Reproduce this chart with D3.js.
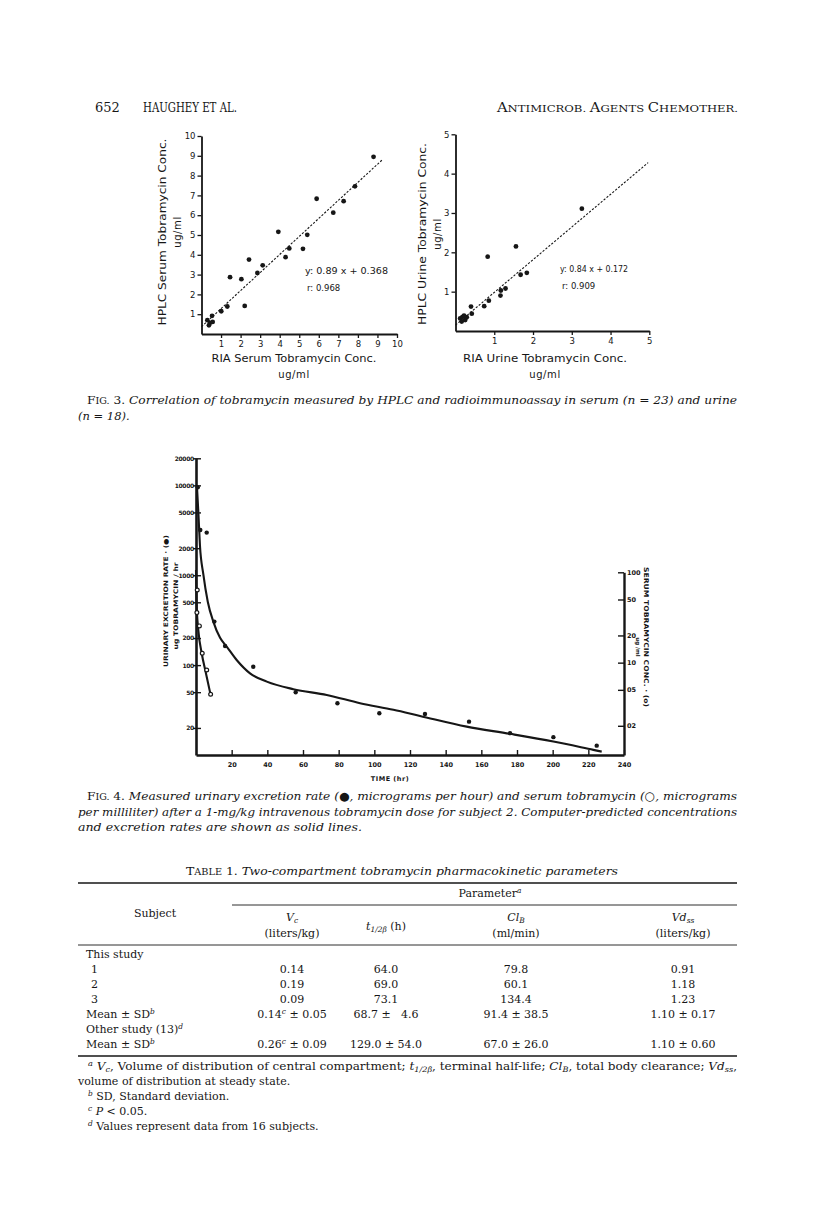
<!DOCTYPE html>
<html>
<head>
<meta charset="utf-8">
<script src="https://cdn.jsdelivr.net/npm/d3@7"></script>
<style>
  body { margin: 0; background: #fff; }
  svg { display: block; }
  .serif { font-family: "DejaVu Serif", serif; fill: #161616; }
  .sans { font-family: "DejaVu Sans", sans-serif; fill: #161616; }
  .axis path, .axis line { stroke: #161616; }
  .axis text { font-family: "DejaVu Sans", sans-serif; fill: #161616; }
</style>
</head>
<body>
<div id="page"></div>
<script>
var width = 816;
var height = 1222;

// ---- Fig 3 data ----
var serumRIA  = [8.8, 7.85, 7.27, 6.74, 5.89, 5.41, 5.19, 4.49, 4.30, 3.93, 3.13, 2.86, 2.43, 2.04, 2.21, 1.46, 1.32, 1.01, 0.54, 0.30, 0.43, 0.38, 0.57];
var serumHPLC = [8.95, 7.46, 6.71, 6.13, 6.83, 5.01, 4.30, 4.32, 3.88, 5.16, 3.47, 3.08, 3.76, 2.77, 1.42, 2.87, 1.39, 1.15, 0.92, 0.70, 0.56, 0.44, 0.61];
var serumLine = [[0, 0.37], [9.25, 8.8]];

var urineRIA  = [3.26, 1.56, 0.83, 1.84, 1.68, 1.29, 1.17, 1.16, 0.86, 0.74, 0.40, 0.42, 0.12, 0.18, 0.25, 0.29, 0.16, 0.22];
var urineHPLC = [3.11, 2.15, 1.89, 1.48, 1.43, 1.08, 1.03, 0.90, 0.77, 0.63, 0.62, 0.44, 0.32, 0.36, 0.28, 0.35, 0.24, 0.39];
var urineLine = [[0, 0.15], [4.97, 4.28]];

var serumTicks = [1, 2, 3, 4, 5, 6, 7, 8, 9, 10];
var urineTicks = [1, 2, 3, 4, 5];

// ---- Fig 4 data ----
var excretionFitTime = [0.5, 1.3, 2.2, 4.1, 6.6, 9.7, 13.5, 17.2, 22.8, 30.3, 39.7, 54.6, 73.3, 92, 110.7, 125.6, 151.8, 176.1, 200.4, 222.8, 227.5];
var excretionFitRate = [10000, 5100, 2170, 1026, 508, 305, 201, 161, 114, 81, 65.5, 54, 46.6, 37.7, 31.8, 27.2, 20.7, 17.2, 14.1, 11.4, 10.9];
var excretionTime = [1, 2.4, 6, 10.3, 16.3, 32.1, 55.9, 79.3, 102.8, 128.4, 153.1, 176.1, 200.4, 224.7];
var excretionRate = [9500, 3190, 2980, 305, 163, 96, 50, 37.7, 29.1, 28.6, 23.5, 17.5, 15.8, 12.7];

var serumFitTime = [0, 0.3, 1.3, 3.2, 5.6, 8.2];
var serumFitConc = [106, 45.8, 23, 12.7, 7.6, 4.4];
var serumTime = [0.7, 0.5, 1.9, 3.5, 6.0, 8.2];
var serumConc = [63.8, 35.8, 25.5, 12.7, 8.3, 4.47];

var rateTicks = [20, 50, 100, 200, 500, 1000, 2000, 5000, 10000, 20000];
var concTicks = [2, 5, 10, 20, 50, 100];
var concTickLabels = ["02", "05", "10", "20", "50", "100"];
var timeTicks = [20, 40, 60, 80, 100, 120, 140, 160, 180, 200, 220, 240];

// ---- Table 1 ----
var rowLabels = ["This study", "1", "2", "3", "Mean ± SD{b}", "Other study (13){d}", "Mean ± SD{b}"];
var colVc   = ["", "0.14", "0.19", "0.09", "0.14{c} ± 0.05", "", "0.26{c} ± 0.09"];
var colHalf = ["", "64.0", "69.0", "73.1", "68.7 ± \u20074.6", "", "129.0 ± 54.0"];
var colCl   = ["", "79.8", "60.1", "134.4", "91.4 ± 38.5", "", "67.0 ± 26.0"];
var colVd   = ["", "0.91", "1.18", "1.23", "1.10 ± 0.17", "", "1.10 ± 0.60"];

var svg = d3.select("#page").append("svg")
  .attr("width", width)
  .attr("height", height);

// small helper: {x} superscript (italic), [x] subscript (italic), *x* italic
function rich(sel, str, size) {
  var re = /(\{[^}]*\}|\[[^\]]*\]|\*[^*]*\*)/g;
  str.split(re).forEach(function (p) {
    if (!p) return;
    if (p[0] == "{") {
      sel.append("tspan").attr("baseline-shift", "super").attr("font-style", "italic")
        .attr("font-size", size * 0.68).text(p.slice(1, -1));
    } else if (p[0] == "[") {
      sel.append("tspan").attr("baseline-shift", "-2").attr("font-style", "italic")
        .attr("font-size", size * 0.68).text(p.slice(1, -1));
    } else if (p[0] == "*") {
      sel.append("tspan").attr("font-style", "italic").text(p.slice(1, -1));
    } else {
      sel.append("tspan").text(p);
    }
  });
  return sel;
}

// ---- Page header ----
svg.append("text").attr("class", "serif").attr("x", 95).attr("y", 112)
  .attr("font-size", 13).text("652");
svg.append("text").attr("class", "serif").attr("x", 143).attr("y", 112)
  .attr("font-size", 12).attr("textLength", 94).attr("lengthAdjust", "spacingAndGlyphs")
  .text("HAUGHEY ET AL.");
var hdr = svg.append("text").attr("class", "serif").attr("x", 497).attr("y", 112)
  .attr("textLength", 241).attr("lengthAdjust", "spacingAndGlyphs").attr("font-size", 12);
hdr.append("tspan").text("A");
hdr.append("tspan").attr("font-size", 9.5).text("NTIMICROB. ");
hdr.append("tspan").text("A");
hdr.append("tspan").attr("font-size", 9.5).text("GENTS ");
hdr.append("tspan").text("C");
hdr.append("tspan").attr("font-size", 9.5).text("HEMOTHER.");

// ---- Fig 3 scatter plots ----
function scatter(cfg) {
  var x = d3.scaleLinear().domain([0, cfg.max]).range(cfg.xRange);
  var y = d3.scaleLinear().domain([0, cfg.max]).range(cfg.yRange);
  var g = svg.append("g");

  g.append("g").attr("class", "axis")
    .attr("transform", "translate(0," + y(0) + ")")
    .call(d3.axisBottom(x).tickValues(cfg.ticks).tickSizeInner(4).tickSizeOuter(0).tickPadding(3).tickFormat(d3.format("d")))
    .call(function (a) {
      a.select(".domain").attr("stroke-width", 1.8);
      a.selectAll("line").attr("stroke-width", 1.3);
      a.selectAll("text").attr("font-size", 8.5);
    });

  g.append("g").attr("class", "axis")
    .attr("transform", "translate(" + x(0) + ",0)")
    .call(d3.axisLeft(y).tickValues(cfg.ticks).tickSizeInner(4).tickSizeOuter(0).tickPadding(2).tickFormat(d3.format("d")))
    .call(function (a) {
      a.select(".domain").attr("stroke-width", 1.8);
      a.selectAll("line").attr("stroke-width", 1.3);
      a.selectAll("text").attr("font-size", 8.5);
    });

  g.append("path")
    .datum(cfg.line)
    .attr("fill", "none")
    .attr("stroke", "#161616")
    .attr("stroke-width", 1.1)
    .attr("stroke-dasharray", "2.2,1.6")
    .attr("d", d3.line().x(function (d) { return x(d[0]); }).y(function (d) { return y(d[1]); }));

  g.selectAll("circle.pt")
    .data(d3.range(cfg.xs.length))
    .enter().append("circle")
    .attr("class", "pt")
    .attr("cx", function (i) { return x(cfg.xs[i]); })
    .attr("cy", function (i) { return y(cfg.ys[i]); })
    .attr("r", 2.4)
    .attr("fill", "#161616");

  // equation
  g.append("text").attr("class", "sans").attr("x", cfg.eqX).attr("y", cfg.eqY)
    .attr("font-size", 8.5).attr("textLength", cfg.eqLen).attr("lengthAdjust", "spacingAndGlyphs")
    .text(cfg.eq);
  g.append("text").attr("class", "sans").attr("x", cfg.eqX + 2).attr("y", cfg.eqY + 17)
    .attr("font-size", 8.5).text(cfg.r);

  // y label
  g.append("text").attr("class", "sans")
    .attr("transform", "translate(" + cfg.yLabX + "," + cfg.yLabY + ")rotate(-90)")
    .attr("text-anchor", "middle").attr("font-size", 10)
    .attr("textLength", cfg.yLabLen).attr("lengthAdjust", "spacingAndGlyphs")
    .text(cfg.yLab);
  g.append("text").attr("class", "sans")
    .attr("transform", "translate(" + (cfg.yLabX + 15) + "," + cfg.yLabY + ")rotate(-90)")
    .attr("text-anchor", "middle").attr("font-size", 10).attr("letter-spacing", 0.6)
    .text("ug/ml");

  // x label
  g.append("text").attr("class", "sans")
    .attr("x", cfg.xLabX).attr("y", 362)
    .attr("text-anchor", "middle").attr("font-size", 10)
    .attr("textLength", cfg.xLabLen).attr("lengthAdjust", "spacingAndGlyphs")
    .text(cfg.xLab);
  g.append("text").attr("class", "sans")
    .attr("x", cfg.xLabX).attr("y", 378)
    .attr("text-anchor", "middle").attr("font-size", 10).attr("letter-spacing", 0.6)
    .text("ug/ml");
}

scatter({
  max: 10, ticks: serumTicks, xRange: [201.5, 397], yRange: [334, 136],
  xs: serumRIA, ys: serumHPLC, line: serumLine,
  eq: "y: 0.89 x + 0.368", r: "r: 0.968", eqX: 305, eqY: 274, eqLen: 83,
  yLab: "HPLC Serum Tobramycin Conc.", yLabX: 165.5, yLabY: 232, yLabLen: 187,
  xLab: "RIA Serum Tobramycin Conc.", xLabX: 294, xLabLen: 165
});

scatter({
  max: 5, ticks: urineTicks, xRange: [455.5, 649.3], yRange: [331, 134.3],
  xs: urineRIA, ys: urineHPLC, line: urineLine,
  eq: "y: 0.84 x + 0.172", r: "r: 0.909", eqX: 560, eqY: 272, eqLen: 68,
  yLab: "HPLC Urine Tobramycin Conc.", yLabX: 425.5, yLabY: 234, yLabLen: 182,
  xLab: "RIA Urine Tobramycin Conc.", xLabX: 545, xLabLen: 164
});

// ---- Fig 3 caption ----
var c3 = svg.append("text").attr("class", "serif").attr("x", 87).attr("y", 404)
  .attr("font-size", 11.5).attr("textLength", 650).attr("lengthAdjust", "spacingAndGlyphs");
c3.append("tspan").text("F");
c3.append("tspan").attr("font-size", 9).text("IG.");
c3.append("tspan").text(" 3. ");
c3.append("tspan").attr("font-style", "italic")
  .text("Correlation of tobramycin measured by HPLC and radioimmunoassay in serum (n = 23) and urine");
svg.append("text").attr("class", "serif").attr("x", 78).attr("y", 420)
  .attr("font-size", 11.5).attr("font-style", "italic").text("(n = 18).");

// ---- Fig 4 ----
var tx = d3.scaleLinear().domain([0, 240]).range([196, 624]);
var yRate = d3.scaleLog().domain([10, 20000]).range([755, 458.3]);
var yConc = d3.scaleLog().domain([0.95, 100]).range([755, 572.3]);

var f4 = svg.append("g");

f4.append("g").attr("class", "axis")
  .attr("transform", "translate(0," + yRate(10) + ")")
  .call(d3.axisBottom(tx).tickValues(timeTicks).tickSizeInner(-5).tickSizeOuter(0).tickPadding(7).tickFormat(d3.format("d")))
  .call(function (a) {
    a.select(".domain").attr("stroke-width", 2.4);
    a.selectAll("line").attr("stroke-width", 1.4);
    a.selectAll("text").attr("font-size", 6.5).attr("font-weight", "bold");
  });

f4.append("g").attr("class", "axis")
  .attr("transform", "translate(" + tx(0) + ",0)")
  .call(d3.axisLeft(yRate).tickValues(rateTicks).tickSizeInner(-5).tickSizeOuter(0).tickPadding(2).tickFormat(d3.format("d")))
  .call(function (a) {
    a.select(".domain").attr("stroke-width", 2.6);
    a.selectAll("line").attr("stroke-width", 1.4).attr("x1", -3);
    a.selectAll("text").attr("font-size", 6).attr("font-weight", "bold").attr("letter-spacing", -0.3);
  });

f4.append("g").attr("class", "axis")
  .attr("transform", "translate(" + tx(240) + ",0)")
  .call(d3.axisRight(yConc).tickValues(concTicks).tickSizeInner(-6).tickSizeOuter(0).tickPadding(3)
    .tickFormat(function (d, i) { return concTickLabels[i]; }))
  .call(function (a) {
    a.select(".domain").attr("stroke-width", 2.4);
    a.selectAll("line").attr("stroke-width", 1.4);
    a.selectAll("text").attr("font-size", 6.5).attr("font-weight", "bold");
  });

var lineRate = d3.line()
  .x(function (i) { return tx(excretionFitTime[i]); })
  .y(function (i) { return yRate(excretionFitRate[i]); })
  .curve(d3.curveMonotoneX);
f4.append("path")
  .datum(d3.range(excretionFitTime.length))
  .attr("fill", "none").attr("stroke", "#161616").attr("stroke-width", 2.1)
  .attr("d", lineRate);

var lineConc = d3.line()
  .x(function (i) { return tx(serumFitTime[i]); })
  .y(function (i) { return yConc(serumFitConc[i]); })
  .curve(d3.curveMonotoneX);
f4.append("path")
  .datum(d3.range(serumFitTime.length))
  .attr("fill", "none").attr("stroke", "#161616").attr("stroke-width", 2.1)
  .attr("d", lineConc);

f4.selectAll("circle.rate")
  .data(d3.range(excretionTime.length))
  .enter().append("circle")
  .attr("class", "rate")
  .attr("cx", function (i) { return tx(excretionTime[i]); })
  .attr("cy", function (i) { return yRate(excretionRate[i]); })
  .attr("r", 2.2)
  .attr("fill", "#161616");

f4.selectAll("circle.conc")
  .data(d3.range(serumTime.length))
  .enter().append("circle")
  .attr("class", "conc")
  .attr("cx", function (i) { return tx(serumTime[i]); })
  .attr("cy", function (i) { return yConc(serumConc[i]); })
  .attr("r", 1.9)
  .attr("fill", "#fff")
  .attr("stroke", "#161616")
  .attr("stroke-width", 1.2);

// fig 4 axis titles
f4.append("text").attr("class", "sans")
  .attr("transform", "translate(167.5,601)rotate(-90)")
  .attr("text-anchor", "middle").attr("font-size", 6.2).attr("font-weight", "bold")
  .attr("textLength", 132).attr("lengthAdjust", "spacingAndGlyphs")
  .text("URINARY EXCRETION RATE \u00b7 (\u25cf)");
f4.append("text").attr("class", "sans")
  .attr("transform", "translate(177.5,606)rotate(-90)")
  .attr("text-anchor", "middle").attr("font-size", 6.2).attr("font-weight", "bold")
  .attr("textLength", 87).attr("lengthAdjust", "spacingAndGlyphs")
  .text("ug TOBRAMYCIN / hr");

f4.append("text").attr("class", "sans")
  .attr("transform", "translate(644,637)rotate(90)")
  .attr("text-anchor", "middle").attr("font-size", 6.5).attr("font-weight", "bold")
  .attr("textLength", 140).attr("lengthAdjust", "spacingAndGlyphs")
  .text("SERUM TOBRAMYCIN CONC. \u00b7 (o)");
f4.append("text").attr("class", "sans")
  .attr("transform", "translate(635.5,647)rotate(90)")
  .attr("text-anchor", "middle").attr("font-size", 5.5).attr("font-weight", "bold")
  .text("ug /ml");

f4.append("text").attr("class", "sans")
  .attr("x", 390).attr("y", 781)
  .attr("text-anchor", "middle").attr("font-size", 6.5).attr("font-weight", "bold").attr("letter-spacing", 0.5)
  .text("TIME (hr)");

// ---- Fig 4 caption ----
var c4 = svg.append("text").attr("class", "serif").attr("x", 87).attr("y", 800)
  .attr("font-size", 11.5).attr("textLength", 650).attr("lengthAdjust", "spacingAndGlyphs");
c4.append("tspan").text("F");
c4.append("tspan").attr("font-size", 9).text("IG.");
c4.append("tspan").text(" 4. ");
c4.append("tspan").attr("font-style", "italic")
  .text("Measured urinary excretion rate (\u25cf, micrograms per hour) and serum tobramycin (\u25cb, micrograms");
svg.append("text").attr("class", "serif").attr("x", 78).attr("y", 815.5)
  .attr("font-size", 11.5).attr("font-style", "italic")
  .attr("textLength", 659).attr("lengthAdjust", "spacingAndGlyphs")
  .text("per milliliter) after a 1-mg/kg intravenous tobramycin dose for subject 2. Computer-predicted concentrations");
svg.append("text").attr("class", "serif").attr("x", 78).attr("y", 831)
  .attr("font-size", 11.5).attr("font-style", "italic")
  .attr("textLength", 284).attr("lengthAdjust", "spacingAndGlyphs")
  .text("and excretion rates are shown as solid lines.");

// ---- Table 1 ----
var tt = svg.append("text").attr("class", "serif").attr("x", 186).attr("y", 875)
  .attr("font-size", 11.5).attr("textLength", 432).attr("lengthAdjust", "spacingAndGlyphs");
tt.append("tspan").text("T");
tt.append("tspan").attr("font-size", 9).text("ABLE");
tt.append("tspan").text(" 1. ");
tt.append("tspan").attr("font-style", "italic").text("Two-compartment tobramycin pharmacokinetic parameters");

function rule(x1, x2, y, w) {
  svg.append("line").attr("x1", x1).attr("x2", x2).attr("y1", y).attr("y2", y)
    .attr("stroke", "#161616").attr("stroke-width", w);
}
rule(78, 737, 883, 1.4);
rule(232, 737, 905, 0.9);
rule(78, 737, 945, 0.9);
rule(78, 737, 1056, 1.4);

var colX = [292, 386, 516, 683];
var fs = 11;

rich(svg.append("text").attr("class", "serif").attr("x", 490).attr("y", 897)
  .attr("text-anchor", "middle").attr("font-size", fs), "Parameter{a}", fs);
svg.append("text").attr("class", "serif").attr("x", 155).attr("y", 917)
  .attr("text-anchor", "middle").attr("font-size", fs).text("Subject");

var headTop = ["*V*[c]", "", "*Cl*[B]", "*Vd*[ss]"];
var headBot = ["(liters/kg)", "", "(ml/min)", "(liters/kg)"];
headTop.forEach(function (h, i) {
  if (h) rich(svg.append("text").attr("class", "serif").attr("x", colX[i]).attr("y", 921)
    .attr("text-anchor", "middle").attr("font-size", fs), h, fs);
  if (headBot[i]) svg.append("text").attr("class", "serif").attr("x", colX[i]).attr("y", 937)
    .attr("text-anchor", "middle").attr("font-size", fs).text(headBot[i]);
});
rich(svg.append("text").attr("class", "serif").attr("x", colX[1]).attr("y", 930)
  .attr("text-anchor", "middle").attr("font-size", fs), "*t*[1/2\u03b2] (h)", fs);

var rowY = [958, 973, 988, 1003, 1018, 1033, 1048];
rowLabels.forEach(function (lab, i) {
  var indent = /^\d$/.test(lab) ? 91 : 86;
  rich(svg.append("text").attr("class", "serif").attr("x", indent).attr("y", rowY[i])
    .attr("font-size", fs), lab, fs);
});
[colVc, colHalf, colCl, colVd].forEach(function (col, c) {
  col.forEach(function (v, i) {
    if (!v) return;
    rich(svg.append("text").attr("class", "serif").attr("x", colX[c]).attr("y", rowY[i])
      .attr("text-anchor", "middle").attr("font-size", fs), v, fs);
  });
});

// ---- Footnotes ----
var notes = [
  { x: 88, y: 1070, s: "{a} *V*[c], Volume of distribution of central compartment; *t*[1/2\u03b2], terminal half-life; *Cl*[B], total body clearance; *Vd*[ss],", len: 649 },
  { x: 78, y: 1085, s: "volume of distribution at steady state." },
  { x: 88, y: 1100, s: "{b} SD, Standard deviation." },
  { x: 88, y: 1115, s: "{c} *P* < 0.05." },
  { x: 88, y: 1130, s: "{d} Values represent data from 16 subjects." }
];
notes.forEach(function (n) {
  var t = svg.append("text").attr("class", "serif").attr("x", n.x).attr("y", n.y).attr("font-size", fs);
  if (n.len) t.attr("textLength", n.len).attr("lengthAdjust", "spacingAndGlyphs");
  rich(t, n.s, fs);
});
</script>
</body>
</html>
